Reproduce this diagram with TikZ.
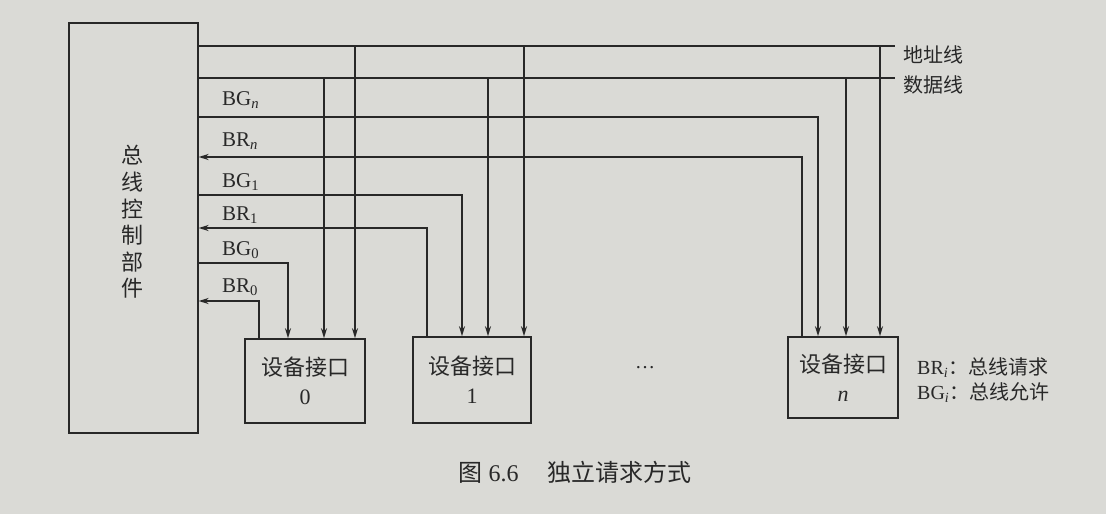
\documentclass[tikz,border=0pt]{standalone}
\usepackage{fontspec}
\setmainfont{Liberation Serif}
\newfontfamily\cjk{Noto Sans CJK SC}
\usetikzlibrary{arrows.meta}
\definecolor{paper}{RGB}{218,218,214}
\definecolor{ink}{RGB}{40,40,40}
\begin{document}
\begin{tikzpicture}[x=1pt,y=-1pt,
  wire/.style={line width=1.6pt, draw=ink},
  arr/.style={wire, -{Stealth[length=10pt,width=6pt]}},
  box/.style={draw=ink, line width=1.6pt, rectangle, inner sep=0pt},
  devbox/.style={box, align=center, text=ink, font=\fontsize{22}{29}\selectfont},
  siglab/.style={anchor=base west, text=ink, inner sep=0pt, font=\fontsize{21}{21}\selectfont},
  cjklab/.style={anchor=west, text=ink, inner sep=0pt, font=\fontsize{20}{20}\selectfont\cjk}
]
\fill[paper] (0,0) rectangle (1106,514);
\useasboundingbox (0,0) rectangle (1106,514);

% controller
\node[box, minimum width=129pt, minimum height=410pt, anchor=north west] (ctrl) at (68,22) {};
\node[align=center, text=ink, font=\fontsize{22}{26.6}\selectfont\cjk] (ctrltxt) at (132,222) {总\\线\\控\\制\\部\\件};

% devices
\node[devbox, minimum width=120pt, minimum height=84pt] (dev0) at (305,381) {{\cjk 设备接口}\\0};
\node[devbox, minimum width=118pt, minimum height=86pt] (dev1) at (472,380) {{\cjk 设备接口}\\1};
\node[devbox, minimum width=110pt, minimum height=81pt] (devn) at (843,377.5) {{\cjk 设备接口}\\\textit{n}};
\node[text=ink, font=\fontsize{20}{20}\selectfont] (dots) at (645,368) {\dots};

% address and data lines
\coordinate (A) at (895,46);
\coordinate (D) at (895,78);
\draw[wire] (ctrl.east |- A) -- (A);
\draw[wire] (ctrl.east |- D) -- (D);
\node[cjklab] (alab) at (903,55) {地址线};
\node[cjklab] (dlab) at (903,85) {数据线};

\draw[arr] (355,0 |- A) -- (355,0 |- dev0.north);
\draw[arr] (324,0 |- D) -- (324,0 |- dev0.north);
\draw[arr] (524,0 |- A) -- (524,0 |- dev1.north);
\draw[arr] (488,0 |- D) -- (488,0 |- dev1.north);
\draw[arr] (880,0 |- A) -- (880,0 |- devn.north);
\draw[arr] (846,0 |- D) -- (846,0 |- devn.north);

% grant and request lines
\draw[arr] (ctrl.east |- 0,117) -| (818,0 |- devn.north);
\draw[arr] (802,0 |- devn.north) |- (ctrl.east |- 0,157);
\draw[arr] (ctrl.east |- 0,195) -| (462,0 |- dev1.north);
\draw[arr] (427,0 |- dev1.north) |- (ctrl.east |- 0,228);
\draw[arr] (ctrl.east |- 0,263) -| (288,0 |- dev0.north);
\draw[arr] (259,0 |- dev0.north) |- (ctrl.east |- 0,301);

% signal labels
\node[siglab] (lbgn) at (222,105) {BG\textsubscript{\textit{n}}};
\node[siglab] (lbrn) at (222,146) {BR\textsubscript{\textit{n}}};
\node[siglab] (lbg1) at (222,187) {BG\textsubscript{1}};
\node[siglab] (lbr1) at (222,220) {BR\textsubscript{1}};
\node[siglab] (lbg0) at (222,255) {BG\textsubscript{0}};
\node[siglab] (lbr0) at (222,292) {BR\textsubscript{0}};

% legend
\node[siglab, font=\fontsize{20}{20}\selectfont] (leg1) at (917,374) {BR\textsubscript{\textit{i}}{\cjk ：总线请求}};
\node[siglab, font=\fontsize{20}{20}\selectfont] (leg2) at (917,399) {BG\textsubscript{\textit{i}}{\cjk ：总线允许}};

% caption
\node[text=ink, font=\fontsize{24}{24}\selectfont] (cap) at (575,472) {{\cjk 图}~6.6\hspace{1.2em}{\cjk 独立请求方式}};
\end{tikzpicture}
\end{document}
